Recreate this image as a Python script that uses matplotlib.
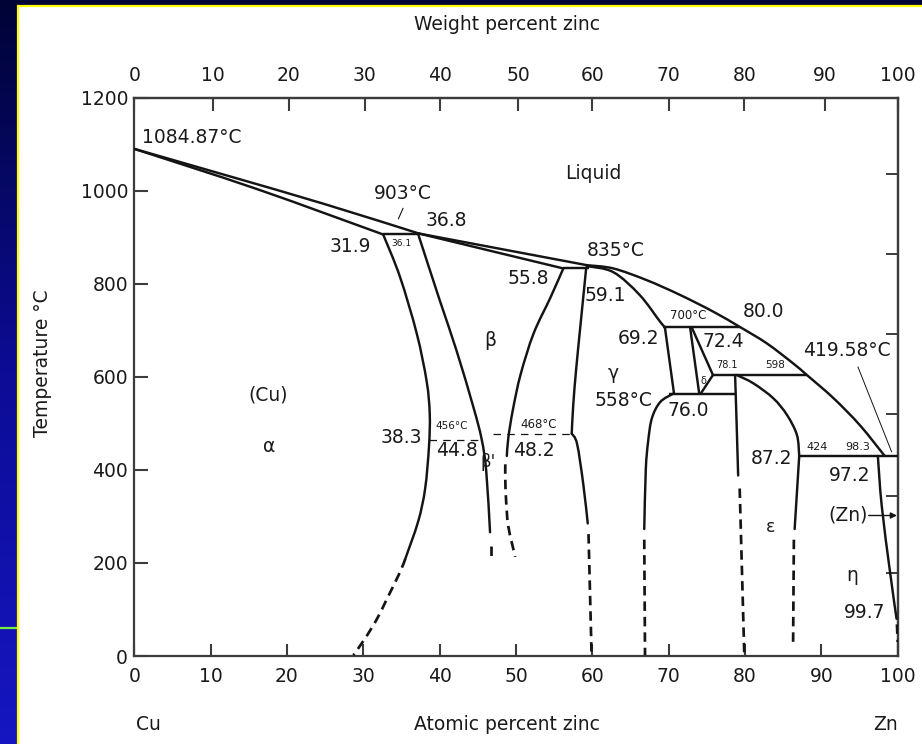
import numpy as np
import matplotlib
matplotlib.use("Agg")
import matplotlib.pyplot as plt
from matplotlib.patches import Rectangle, PathPatch
from matplotlib.path import Path

plt.rcParams['font.family'] = ['DejaVu Sans']

# ---------------- data (atomic % Zn, temperature degC) ----------------
liquidus_x = [0, 12.5, 25, 37.3, 59.3, 62.75, 67.1, 71.5, 75.85, 79.35, 82.85, 86.3, 88.1,
              91.6, 95.05, 98.3]
liquidus_T = [1090, 1031, 971, 908, 840, 833, 808, 776, 740, 707, 672, 629, 604,
              554, 496, 430]

alpha_sol_x = [0, 16, 32.6]
alpha_sol_T = [1090, 1004, 906]

beta_sol_x = [37.3, 56.2]
beta_sol_T = [908, 833]

gamma_sol_x = [59.3, 62.75, 66.2, 68.9, 69.5]
gamma_sol_T = [838, 825, 776, 718, 707]

alpha_solvus_x = [32.6, 34.8, 37.0, 38.3, 38.7, 38.6, 38.1, 37.2, 35.5]
alpha_solvus_T = [906, 815, 693, 590, 520, 450, 360, 290, 209]
alpha_dash_x = [35.5, 34.8, 33.1, 31.8, 30.2, 28.7]
alpha_dash_T = [209, 180, 123, 80, 37, 2]

beta_left_x = [37.2, 40.0, 42.2, 44.4, 45.5, 46.1, 46.6]
beta_left_T = [906, 765, 657, 536, 466, 398, 266]
beta_left_dash_x = [46.7, 46.7]
beta_left_dash_T = [236, 212]

beta_right_x = [56.2, 54.5, 52.3, 50.6, 49.6, 49.0, 48.8]
beta_right_T = [833, 770, 693, 605, 530, 470, 430]
beta_right_dash_x = [48.6, 48.6, 48.7, 49.0, 49.9]
beta_right_dash_T = [412, 380, 335, 278, 213]

gamma_left_x = [59.2, 58.5, 57.9, 57.5, 57.3]
gamma_left_T = [835, 720, 620, 540, 478]
gamma_left_low_x = [57.3, 58.0, 58.8, 59.4]
gamma_left_low_T = [478, 456, 371, 285]
gamma_left_dash_x = [59.5, 59.9]
gamma_left_dash_T = [262, 2]

gamma_right_x = [69.5, 70.7]
gamma_right_T = [707, 564]

gamma_low_x = [70.6, 68.9, 67.8, 67.3, 67.0, 66.8]
gamma_low_T = [564, 546, 511, 460, 400, 273]
gamma_low_dash_x = [66.8, 66.9]
gamma_low_dash_T = [250, 2]

delta_left_x = [72.8, 74.0]
delta_left_T = [707, 564]
delta_right_x = [73.0, 75.8, 74.2]
delta_right_T = [707, 604, 564]

eps_left_x = [78.7, 78.9, 79.1]
eps_left_T = [604, 500, 388]
eps_left_dash_x = [79.3, 79.9]
eps_left_dash_T = [360, 5]

eps_curve_x = [78.9, 81.1, 83.7, 85.5, 86.8, 87.1]
eps_curve_T = [604, 586, 554, 518, 475, 430]

eps_right_x = [87.1, 86.5]
eps_right_T = [430, 273]
eps_right_dash_x = [86.4, 86.3]
eps_right_dash_T = [250, 30]

eta_x = [97.4, 97.9, 99.0, 99.85]
eta_T = [430, 324, 180, 80]
eta_dash_x = [99.9, 100]
eta_dash_T = [68, 30]

# invariant (horizontal) lines
iso_x0 = [32.6, 56.2, 69.3, 75.8, 70.0, 87.1]
iso_x1 = [37.3, 59.6, 79.35, 88.1, 78.7, 100.0]
iso_T = [906, 833, 707, 604, 564, 430]

# ordering transitions (dashed)
order_x0 = [38.6, 47.0]
order_x1 = [45.6, 57.3]
order_T = [464, 478]

# axes ticks
at_ticks = [0, 10, 20, 30, 40, 50, 60, 70, 80, 90, 100]
wt_tick_pos = [0, 10.35, 20.2, 30.2, 40.0, 50.3, 60.0, 70.0, 79.9, 90.5, 100]
wt_tick_labels = ['0', '10', '20', '30', '40', '50', '60', '70', '80', '90', '100']
T_ticks = [0, 200, 400, 600, 800, 1000, 1200]
right_ticks = [178, 344, 521, 693, 865, 1037]

# labels on the diagram
labels = [
    ('1084.87°C', 1.0, 1114, 13.5, 'left'),
    ('903°C', 35.2, 994, 13.5, 'center'),
    ('36.8', 38.1, 937, 13.5, 'left'),
    ('31.9', 28.3, 881, 13.5, 'center'),
    ('36.1', 35.0, 887, 6.5, 'center'),
    ('Liquid', 60.1, 1038, 13.5, 'center'),
    ('835°C', 63.0, 872, 13.5, 'center'),
    ('55.8', 51.6, 811, 13.5, 'center'),
    ('59.1', 61.65, 775, 13.5, 'center'),
    ('80.0', 82.4, 740, 13.5, 'center'),
    ('700°C', 72.6, 732, 8.5, 'center'),
    ('69.2', 66.0, 682, 13.5, 'center'),
    ('72.4', 77.2, 677, 13.5, 'center'),
    ('419.58°C', 93.3, 657, 13.5, 'center'),
    ('β', 46.6, 679, 13.5, 'center'),
    ('γ', 62.7, 607, 13.5, 'center'),
    ('558°C', 64.05, 549, 13.5, 'center'),
    ('76.0', 72.6, 528, 13.5, 'center'),
    ('78.1', 77.6, 625, 7, 'center'),
    ('598', 83.9, 625, 7.5, 'center'),
    ('δ', 74.5, 591, 7, 'center'),
    ('(Cu)', 17.55, 561, 13.5, 'center'),
    ('α', 17.7, 451, 13.5, 'center'),
    ('38.3', 35.0, 470, 13.5, 'center'),
    ('456°C', 41.6, 494, 7.5, 'center'),
    ('44.8', 42.2, 442, 13.5, 'center'),
    ("β'", 46.4, 417, 12, 'center'),
    ('468°C', 52.9, 498, 8.5, 'center'),
    ('48.2', 52.3, 442, 13.5, 'center'),
    ('87.2', 83.5, 425, 13.5, 'center'),
    ('424', 89.4, 450, 8, 'center'),
    ('98.3', 94.8, 450, 8, 'center'),
    ('97.2', 93.75, 388, 13.5, 'center'),
    ('(Zn)', 93.5, 302, 13.5, 'center'),
    ('ε', 83.3, 277, 12.5, 'center'),
    ('η', 94.0, 173, 13.5, 'center'),
    ('99.7', 95.7, 94, 13.5, 'center'),
]

# ---------------- figure ----------------
W, H = 922, 744
fig = plt.figure(figsize=(W / 100, H / 100), dpi=100)

bg = fig.add_axes([0, 0, 1, 1])
bg.set_axis_off()
bg.set_xlim(0, 1)
bg.set_ylim(0, 1)
t = np.linspace(0, 1, H)[:, None]
top_c = np.array([0x00, 0x03, 0x35]) / 255
mid_c = np.array([0x0c, 0x0c, 0x96]) / 255
bot_c = np.array([0x16, 0x16, 0xc2]) / 255
grad = np.where(t < 0.5, top_c * (1 - 2 * t) + mid_c * (2 * t),
                mid_c * (2 - 2 * t) + bot_c * (2 * t - 1))
bg.imshow(np.repeat(grad[:, None, :], 2, axis=1), aspect='auto',
          extent=[0, 1, 0, 1], origin='upper', zorder=0)
bg.plot([0, 17.5 / W], [1 - 628 / H] * 2, color='#78f040', lw=1.6, zorder=1)
bg.add_patch(Rectangle((17.5 / W, -0.02), 1.1, 1 - 5.5 / H + 0.02,
                       facecolor='white', edgecolor='#ffff00', lw=1.6, zorder=2))

ax = fig.add_axes([134.3 / W, 1 - 656 / H, (897.7 - 134.3) / W, (656 - 97.7) / H])
ax.set_facecolor('none')
ax.set_xlim(0, 100)
ax.set_ylim(0, 1200)

txt_c = '#1a1a1a'
line_c = '#141414'
spine_c = '#3c3c3c'

for s in ax.spines.values():
    s.set_color(spine_c)
    s.set_linewidth(1.6)

ax.set_xticks(at_ticks)
ax.set_xticklabels([str(v) for v in at_ticks])
ax.set_yticks(T_ticks)
ax.set_yticklabels([str(v) for v in T_ticks])
ax.tick_params(axis='x', direction='in', length=9, width=1.5, color=spine_c,
               pad=8, labelsize=13.5, labelcolor=txt_c)
ax.tick_params(axis='y', direction='in', length=10, width=1.5, color=spine_c,
               pad=4.5, labelsize=13.5, labelcolor=txt_c)

sec = ax.secondary_xaxis('top')
sec.set_xticks(wt_tick_pos)
sec.set_xticklabels(wt_tick_labels)
sec.tick_params(direction='in', length=9, width=1.5, color=spine_c, pad=9,
                labelsize=13.5, labelcolor=txt_c)
sec.spines['top'].set_color(spine_c)
sec.spines['top'].set_linewidth(1.6)

secy = ax.secondary_yaxis('right')
secy.set_yticks(right_ticks)
secy.set_yticklabels([''] * len(right_ticks))
secy.tick_params(direction='in', length=9, width=1.4, color=spine_c)
secy.spines['right'].set_color(spine_c)
secy.spines['right'].set_linewidth(1.6)

lw = 1.75


def smooth_line(xs, Ts, dashed=False, width=lw):
    """Draw a smooth (Catmull-Rom -> cubic Bezier) curve through the points."""
    p = np.column_stack([xs, Ts]).astype(float)
    n = len(p)
    if n <= 2:
        verts = [tuple(p[0]), tuple(p[-1])]
        codes = [Path.MOVETO, Path.LINETO]
    else:
        ext = np.vstack([p[0], p, p[-1]])
        verts = [tuple(p[0])]
        codes = [Path.MOVETO]
        for i in range(n - 1):
            p0, p1, p2, p3 = ext[i], ext[i + 1], ext[i + 2], ext[i + 3]
            c1 = p1 + (p2 - p0) / 6.0
            c2 = p2 - (p3 - p1) / 6.0
            verts += [tuple(c1), tuple(c2), tuple(p2)]
            codes += [Path.CURVE4] * 3
    style = dict(fill=False, edgecolor=line_c, lw=width, zorder=3,
                 capstyle='round', joinstyle='round', transform=ax.transData)
    if dashed:
        style['linestyle'] = (0, (3.5, 2.2))
        style['capstyle'] = 'butt'
        style['lw'] = width + 0.2
    ax.add_patch(PathPatch(Path(verts, codes), **style))


for xs, Ts in [(liquidus_x[:4], liquidus_T[:4]), (liquidus_x[3:5], liquidus_T[3:5]),
               (liquidus_x[4:], liquidus_T[4:]),
               (alpha_sol_x, alpha_sol_T), (beta_sol_x, beta_sol_T),
               (gamma_sol_x, gamma_sol_T), (alpha_solvus_x, alpha_solvus_T),
               (beta_left_x, beta_left_T), (beta_right_x, beta_right_T),
               (gamma_left_x, gamma_left_T), (gamma_left_low_x, gamma_left_low_T),
               (gamma_right_x, gamma_right_T),
               (gamma_low_x, gamma_low_T), (delta_left_x, delta_left_T),
               (delta_right_x[:2], delta_right_T[:2]), (delta_right_x[1:], delta_right_T[1:]),
               (eps_left_x, eps_left_T),
               (eps_curve_x, eps_curve_T), (eps_right_x, eps_right_T), (eta_x, eta_T)]:
    smooth_line(xs, Ts)

for xs, Ts in [(alpha_dash_x, alpha_dash_T), (beta_left_dash_x, beta_left_dash_T),
               (beta_right_dash_x, beta_right_dash_T), (gamma_left_dash_x, gamma_left_dash_T),
               (gamma_low_dash_x, gamma_low_dash_T), (eps_left_dash_x, eps_left_dash_T),
               (eps_right_dash_x, eps_right_dash_T), (eta_dash_x, eta_dash_T)]:
    smooth_line(xs, Ts, dashed=True)

ax.hlines(iso_T, iso_x0, iso_x1, colors=line_c, lw=lw, zorder=3)
ax.hlines(order_T, order_x0, order_x1, colors=line_c, lw=0.9,
          linestyles=(0, (6, 5)), zorder=3)

# leader lines
ax.plot([35.2, 34.6], [962, 940], color=line_c, lw=0.8)
ax.plot([94.8, 99.2], [621, 439], color=line_c, lw=0.7)
ax.annotate('', xy=(99.9, 302), xytext=(96.2, 302),
            arrowprops=dict(arrowstyle='-|>', lw=1.0, color=line_c,
                            mutation_scale=9, shrinkA=0, shrinkB=0))

for text, x, T, size, ha in labels:
    ax.text(x, T, text, fontsize=size, ha=ha, va='center', color=txt_c, zorder=4)

fig.text(507 / W, 1 - 25 / H, 'Weight percent zinc', ha='center', va='center',
         fontsize=13.5, color=txt_c)
fig.text(507 / W, 1 - 725 / H, 'Atomic percent zinc', ha='center', va='center',
         fontsize=13.5, color=txt_c)
fig.text(148 / W, 1 - 725 / H, 'Cu', ha='center', va='center', fontsize=13.5, color=txt_c)
fig.text(885 / W, 1 - 724 / H, 'Zn', ha='center', va='center', fontsize=13.5, color=txt_c)
fig.text(43 / W, 1 - 363 / H, 'Temperature °C', ha='center', va='center',
         rotation=90, fontsize=13.5, color=txt_c)

fig.savefig('out.png', dpi=100)
